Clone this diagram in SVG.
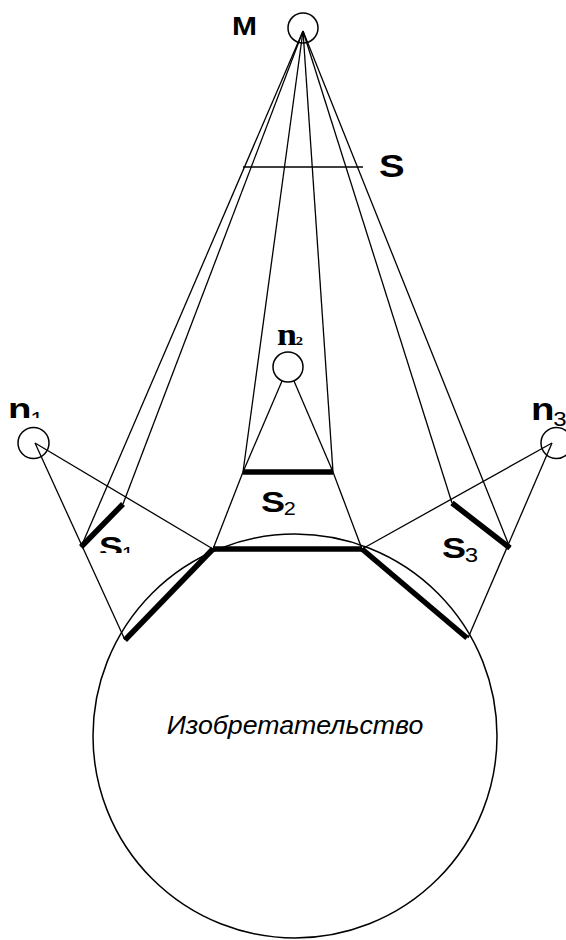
<svg xmlns="http://www.w3.org/2000/svg" width="566" height="940" viewBox="0 0 566 940">
<style>
.thin{stroke:#000;stroke-width:1.3;fill:none}
.thick{stroke:#000;stroke-width:5.5;fill:none;stroke-linecap:butt}
.node{stroke:#000;stroke-width:1.5;fill:none}
.lbl{font-family:"Liberation Sans",Arial,sans-serif;font-weight:bold;fill:#000}
.sub{font-weight:normal}
.ser{font-family:"Liberation Serif","Times New Roman",serif;font-weight:bold;fill:#000}
</style>
<defs>
<clipPath id="clipN1"><rect x="0" y="390" width="60" height="28"/></clipPath>
<clipPath id="clipS1"><rect x="90" y="525" width="60" height="28"/></clipPath>
</defs>
<g id="connectors">
<line class="thin" x1="303" y1="31" x2="81" y2="547"/>
<line class="thin" x1="303" y1="31" x2="123" y2="504"/>
<line class="thin" x1="303" y1="31" x2="243" y2="472"/>
<line class="thin" x1="303" y1="31" x2="333" y2="472"/>
<line class="thin" x1="303" y1="31" x2="452" y2="503"/>
<line class="thin" x1="303" y1="31" x2="510" y2="548"/>
<line class="thin" x1="35" y1="443" x2="125" y2="640"/>
<line class="thin" x1="35" y1="443" x2="213" y2="549"/>
<line class="thin" x1="552" y1="443" x2="362" y2="549"/>
<line class="thin" x1="552" y1="443" x2="468" y2="638"/>
<line class="thin" x1="243" y1="472" x2="213" y2="549"/>
<line class="thin" x1="333" y1="472" x2="362" y2="549"/>
<line class="thin" x1="288" y1="367" x2="243" y2="472"/>
<line class="thin" x1="288" y1="367" x2="333" y2="472"/>
</g>
<g id="S">
<line class="thin" x1="243" y1="167" x2="363" y2="167"/>
<text class="lbl" font-size="32" transform="translate(379,177) scale(1.2,1)">S</text>
</g>
<g id="invention">
<circle class="node" cx="295" cy="736" r="202"/>
<line class="thick" x1="213" y1="549" x2="362" y2="549"/>
<line class="thick" x1="213" y1="549" x2="125" y2="640"/>
<line class="thick" x1="362" y1="549" x2="467" y2="638"/>
<text font-family="'Liberation Sans',Arial,sans-serif" font-style="italic" font-size="25" text-anchor="middle" transform="translate(295,734) scale(1.07,1)">Изобретательство</text>
</g>
<g id="M">
<circle class="node" cx="303" cy="28" r="15"/>
<text class="lbl" font-size="25" transform="translate(232,35) scale(1.2,1)">M</text>
</g>
<g id="n1">
<circle class="node" cx="33.5" cy="443" r="15.5"/>
<g clip-path="url(#clipN1)">
<text class="lbl" font-size="32" transform="translate(8,420) scale(1.2,1)">n<tspan class="sub" font-size="20" dx="-1" dy="6">1</tspan></text>
</g>
</g>
<g id="n2">
<circle cx="288" cy="367" r="15" stroke="#000" stroke-width="1.5" fill="#fff"/>
<text class="ser" font-size="32" transform="translate(277,345) scale(1.12,1)">n<tspan font-size="13" dx="-1">2</tspan></text>
</g>
<g id="n3">
<circle class="node" cx="556.5" cy="443" r="15.5"/>
<text class="lbl" font-size="32" transform="translate(531,420) scale(1.2,1)">n<tspan class="sub" font-size="20" dx="-1" dy="6">3</tspan></text>
</g>
<g id="S1">
<line class="thick" x1="81" y1="547" x2="123" y2="504"/>
<g clip-path="url(#clipS1)">
<text class="lbl" font-size="30" transform="translate(99,557) scale(1.2,1)">S<tspan class="sub" font-size="18" dx="-1" dy="3">1</tspan></text>
</g>
</g>
<g id="S2">
<line class="thick" x1="243" y1="472" x2="333" y2="472"/>
<text class="lbl" font-size="30" transform="translate(261,512) scale(1.2,1)">S<tspan class="sub" font-size="18" dx="-1" dy="3">2</tspan></text>
</g>
<g id="S3">
<line class="thick" x1="452" y1="503" x2="510" y2="548"/>
<text class="lbl" font-size="30" transform="translate(442,558) scale(1.2,1)">S<tspan class="sub" font-size="20" dx="-1" dy="4">3</tspan></text>
</g>
</svg>
